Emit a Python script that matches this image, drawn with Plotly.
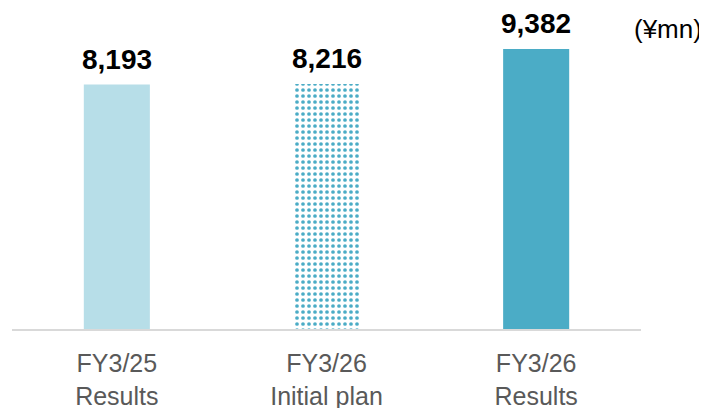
import plotly.graph_objects as go

categories = ["FY3/25<br>Results", "FY3/26<br>Initial plan", "FY3/26<br>Results"]
values = [8193, 8216, 9382]
value_labels = ["8,193", "8,216", "9,382"]
solid_colors = ["#b7dee8", "#ffffff", "#4bacc6"]
plan_index = 1

fig = go.Figure()

# solid bars (results)
fig.add_trace(go.Bar(
    x=[c for i, c in enumerate(categories) if i != plan_index],
    y=[v for i, v in enumerate(values) if i != plan_index],
    width=0.315,
    marker=dict(
        color=[c for i, c in enumerate(solid_colors) if i != plan_index],
        line=dict(width=0),
    ),
    hoverinfo="skip",
))

# dotted bar (initial plan)
fig.add_trace(go.Bar(
    x=[categories[plan_index]],
    y=[values[plan_index]],
    width=0.315,
    marker=dict(
        color="#ffffff",
        line=dict(width=0),
        pattern=dict(
            shape=".",
            fillmode="replace",
            fgcolor="#4bacc6",
            bgcolor="#ffffff",
            fgopacity=1,
            size=6,
            solidity=0.3,
        ),
    ),
    hoverinfo="skip",
))

for cat, val, lab in zip(categories, values, value_labels):
    fig.add_annotation(
        x=cat, y=val, text="<b>" + lab + "</b>",
        showarrow=False, yanchor="bottom", yshift=8,
        font=dict(family="Liberation Sans, Arial", size=28, color="#000000"),
    )

fig.add_annotation(
    x=1.0, y=1.0, xref="paper", yref="paper",
    text="(¥mn)", showarrow=False, xanchor="right", yanchor="middle",
    xshift=63, yshift=-20,
    font=dict(family="Liberation Sans, Arial", size=26, color="#000000"),
)

# the page puts the plot 8px in from the top-left corner
fig.update_layout(
    width=699,
    height=400,
    margin=dict(l=4, r=66, t=1, b=79),
    plot_bgcolor="#ffffff",
    paper_bgcolor="#ffffff",
    showlegend=False,
    barmode="overlay",
)

fig.update_xaxes(
    categoryorder="array", categoryarray=categories,
    automargin=False,
    showline=True, linecolor="#d9d9d9", linewidth=2,
    showgrid=False, ticks="", ticklabelstandoff=11,
    tickfont=dict(family="Liberation Sans, Arial", size=25, color="#595959"),
)
fig.update_yaxes(
    range=[0, 10727], visible=False, showgrid=False,
)

fig.write_html("out.html")
